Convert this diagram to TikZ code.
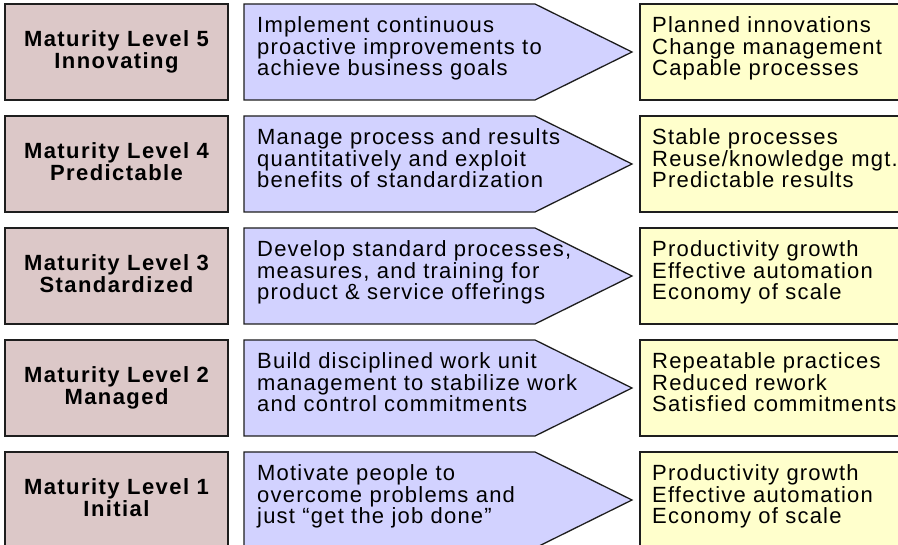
\documentclass[tikz,border=0pt]{standalone}
\usepackage{fontspec}
\setmainfont{Liberation Sans}[LetterSpace=5.5, BoldFeatures={LetterSpace=6.5}]
\definecolor{levelfill}{RGB}{220,200,200}
\definecolor{actionfill}{RGB}{210,210,255}
\definecolor{resultfill}{RGB}{255,255,204}
\definecolor{edge}{RGB}{30,30,30}

\begin{document}
\begin{tikzpicture}[x=1pt, y=-1pt,
    box/.style={
        draw=edge,
        line width=1.3pt
    },
    level/.style={
        anchor=base,
        inner sep=0pt,
        align=center,
        font=\fontsize{22}{21.7}\selectfont\bfseries
    },
    action/.style={
        anchor=base west,
        inner sep=0pt,
        align=left,
        font=\fontsize{22}{21.7}\selectfont
    },
    result/.style={
        anchor=base west,
        inner sep=0pt,
        align=left,
        font=\fontsize{22}{21.7}\selectfont
    }
]

\fill[white] (0,0) rectangle (898,545);
\clip (0,0) rectangle (898,545);

%%%%%%%%%%%%%%%%%%%%%%%%
% Level 5
%%%%%%%%%%%%%%%%%%%%%%%%
\draw[box, fill=levelfill] (5,4) rectangle (228,100);
\draw[box, fill=actionfill] (244,4) -- (535,4) -- (632,52) -- (535,100) -- (244,100) -- cycle;
\draw[box, fill=resultfill] (640,4) rectangle (910,100);
\node[level] (lvl5) at (116.5,68.5) {Maturity Level 5\\Innovating};
\node[action] (act5) at (257,76) {Implement continuous\\proactive improvements to\\achieve business goals};
\node[result] (res5) at (652,76) {Planned innovations\\Change management\\Capable processes};

%%%%%%%%%%%%%%%%%%%%%%%%
% Level 4
%%%%%%%%%%%%%%%%%%%%%%%%
\draw[box, fill=levelfill] (5,116) rectangle (228,212);
\draw[box, fill=actionfill] (244,116) -- (535,116) -- (632,164) -- (535,212) -- (244,212) -- cycle;
\draw[box, fill=resultfill] (640,116) rectangle (910,212);
\node[level] (lvl4) at (116.5,180.5) {Maturity Level 4\\Predictable};
\node[action] (act4) at (257,188) {Manage process and results\\quantitatively and exploit\\benefits of standardization};
\node[result] (res4) at (652,188) {Stable processes\\Reuse/knowledge mgt.\\Predictable results};

%%%%%%%%%%%%%%%%%%%%%%%%
% Level 3
%%%%%%%%%%%%%%%%%%%%%%%%
\draw[box, fill=levelfill] (5,228) rectangle (228,324);
\draw[box, fill=actionfill] (244,228) -- (535,228) -- (632,276) -- (535,324) -- (244,324) -- cycle;
\draw[box, fill=resultfill] (640,228) rectangle (910,324);
\node[level] (lvl3) at (116.5,292.5) {Maturity Level 3\\Standardized};
\node[action] (act3) at (257,300) {Develop standard processes,\\measures, and training for\\product \& service offerings};
\node[result] (res3) at (652,300) {Productivity growth\\Effective automation\\Economy of scale};

%%%%%%%%%%%%%%%%%%%%%%%%
% Level 2
%%%%%%%%%%%%%%%%%%%%%%%%
\draw[box, fill=levelfill] (5,340) rectangle (228,436);
\draw[box, fill=actionfill] (244,340) -- (535,340) -- (632,388) -- (535,436) -- (244,436) -- cycle;
\draw[box, fill=resultfill] (640,340) rectangle (910,436);
\node[level] (lvl2) at (116.5,404.5) {Maturity Level 2\\Managed};
\node[action] (act2) at (257,412) {Build disciplined work unit\\management to stabilize work\\and control commitments};
\node[result] (res2) at (652,412) {Repeatable practices\\Reduced rework\\Satisfied commitments};

%%%%%%%%%%%%%%%%%%%%%%%%
% Level 1
%%%%%%%%%%%%%%%%%%%%%%%%
\draw[box, fill=levelfill] (5,452) rectangle (228,548);
\draw[box, fill=actionfill] (244,452) -- (535,452) -- (632,500) -- (535,548) -- (244,548) -- cycle;
\draw[box, fill=resultfill] (640,452) rectangle (910,548);
\node[level] (lvl1) at (116.5,516.5) {Maturity Level 1\\Initial};
\node[action] (act1) at (257,524) {Motivate people to\\overcome problems and\\just “get the job done”};
\node[result] (res1) at (652,524) {Productivity growth\\Effective automation\\Economy of scale};

\end{tikzpicture}
\end{document}
